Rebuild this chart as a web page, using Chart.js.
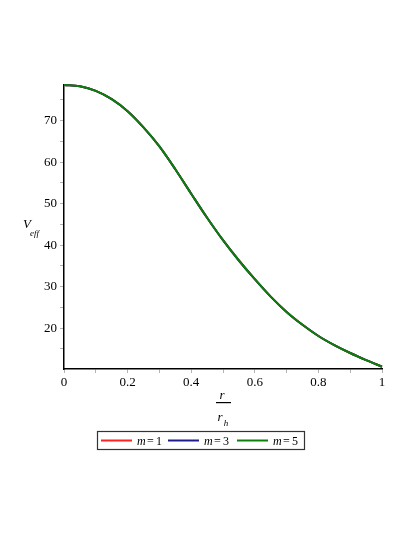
<!DOCTYPE html>
<html>
<head>
<meta charset="utf-8">
<script src="https://cdn.jsdelivr.net/npm/chart.js@4"></script>
<style>
  html, body { margin: 0; padding: 0; background: #fff; }
  #wrap { width: 415px; height: 537px; }
</style>
</head>
<body>
<div id="wrap"><canvas id="myChart" width="415" height="537"></canvas></div>
<script>
// r / r_h values
const rValues = [0, 0.05, 0.1, 0.15, 0.2, 0.25, 0.3, 0.35, 0.4, 0.45, 0.5,
                 0.55, 0.6, 0.65, 0.7, 0.75, 0.8, 0.85, 0.9, 0.95, 1]
// the three curves lie on top of each other in the picture
const vM1 = [78.6, 78.3, 77.2, 75.2, 72.3, 68.4, 63.8, 58.3, 52.4, 46.6, 41.2,
             36.3, 31.8, 27.6, 23.9, 20.8, 18.1, 15.9, 14.0, 12.3, 10.7]
const vM3 = [78.6, 78.3, 77.2, 75.2, 72.3, 68.4, 63.8, 58.3, 52.4, 46.6, 41.2,
             36.3, 31.8, 27.6, 23.9, 20.8, 18.1, 15.9, 14.0, 12.3, 10.7]
const vM5 = [78.6, 78.3, 77.2, 75.2, 72.3, 68.4, 63.8, 58.3, 52.4, 46.6, 41.2,
             36.3, 31.8, 27.6, 23.9, 20.8, 18.1, 15.9, 14.0, 12.3, 10.7]
const seriesLabels = ['1', '3', '5']
const seriesColors = ['#ff2020', '#1c1c8c', '#0a800a']
const xTicks = [0, 0.1, 0.2, 0.3, 0.4, 0.5, 0.6, 0.7, 0.8, 0.9, 1]
const yTicks = [15, 20, 25, 30, 35, 40, 45, 50, 55, 60, 65, 70, 75]

const serif = '"Liberation Serif", "DejaVu Serif", serif'
const canvas = document.getElementById('myChart')

function toPoints(ys){
    return rValues.map((x, i) => ({x, y: ys[i]}))
}

// titles (V_eff, r over r_h) and the boxed legend
const extras = {
    id: 'extras',
    afterDraw(chart){
        const ctx = chart.ctx
        ctx.save()
        ctx.fillStyle = '#000'
        ctx.textBaseline = 'alphabetic'

        // y title
        ctx.font = 'italic 13px ' + serif
        ctx.textAlign = 'left'
        ctx.fillText('V', 23, 228)
        ctx.font = 'italic 9px ' + serif
        ctx.fillText('eff', 30, 236)

        // x title as a fraction
        const cx = (chart.chartArea.left + chart.chartArea.right) / 2
        ctx.font = 'italic 13px ' + serif
        ctx.textAlign = 'center'
        ctx.fillText('r', cx - 1, 399)
        ctx.fillRect(cx - 7, 402, 15, 1.2)
        ctx.fillText('r', cx - 3, 421)
        ctx.font = 'italic 9px ' + serif
        ctx.fillText('h', cx + 3, 426)

        // legend
        ctx.strokeStyle = '#333'
        ctx.lineWidth = 1.2
        ctx.strokeRect(97.5, 431.5, 207, 18)
        const starts = [101, 168, 237]
        chart.data.datasets.forEach((ds, i) => {
            const x0 = starts[i]
            ctx.strokeStyle = ds.borderColor
            ctx.lineWidth = 2
            ctx.beginPath()
            ctx.moveTo(x0, 440.5)
            ctx.lineTo(x0 + 31, 440.5)
            ctx.stroke()
            ctx.fillStyle = '#000'
            ctx.textAlign = 'left'
            ctx.font = 'italic 12px ' + serif
            ctx.fillText('m', x0 + 36, 445)
            ctx.font = '12px ' + serif
            ctx.fillText('=', x0 + 46, 445)
            ctx.fillText(seriesLabels[i], x0 + 55, 445)
        })
        ctx.restore()
    }
}

const config = {
    type: 'line',
    data: {
        datasets: [vM1, vM3, vM5].map((ys, i) => ({
            label: 'm = ' + seriesLabels[i],
            data: toPoints(ys),
            borderColor: seriesColors[i],
            borderWidth: 2,
            pointRadius: 0,
            cubicInterpolationMode: 'monotone',
            fill: false,
            clip: false,
            order: 3 - i   // m = 5 drawn last, on top
        }))
    },
    options: {
        responsive: false,
        animation: false,
        events: [],
        layout: {
            padding: {left: 0, top: 85, right: 33, bottom: 0}
        },
        plugins: {
            legend: {display: false},
            tooltip: {enabled: false}
        },
        scales: {
            x: {
                type: 'linear',
                min: 0,
                max: 1,
                afterBuildTicks: s => { s.ticks = xTicks.map(value => ({value})) },
                afterFit: s => { s.height = 168 },
                grid: {drawOnChartArea: false, tickLength: 4, tickColor: '#b4b4b4'},
                border: {color: '#000', width: 1.5},
                ticks: {
                    color: '#000',
                    font: {family: serif, size: 13},
                    padding: 2,
                    maxRotation: 0,
                    autoSkip: false,
                    callback: v => {
                        const k = Math.round(v * 10)
                        if (k % 2) return ''
                        return k === 0 ? '0' : k === 10 ? '1' : (k / 10).toFixed(1)
                    }
                }
            },
            y: {
                type: 'linear',
                min: 10.15,
                max: 78.6,
                afterBuildTicks: s => { s.ticks = yTicks.map(value => ({value})) },
                afterFit: s => { s.width = 64 },
                grid: {drawOnChartArea: false, tickLength: 4, tickColor: '#b4b4b4'},
                border: {color: '#000', width: 1.5},
                ticks: {
                    color: '#000',
                    font: {family: serif, size: 13},
                    padding: 3,
                    autoSkip: false,
                    callback: v => (v % 10 === 0 ? String(v) : '')
                }
            }
        }
    },
    plugins: [extras]
}

const myChart = new Chart(canvas, config)
</script>
</body>
</html>
